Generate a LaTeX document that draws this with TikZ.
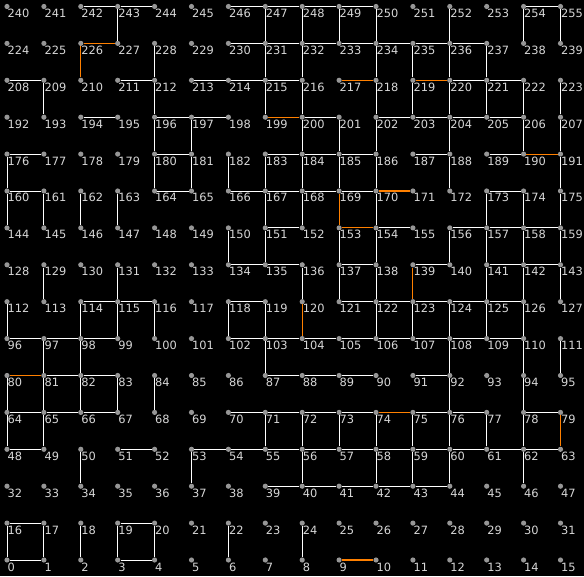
\documentclass[tikz,border=0pt]{standalone}
\usepackage{fontspec}
\setmainfont{DejaVu Sans}
\definecolor{tecka}{RGB}{150,150,150}
\definecolor{popisek}{RGB}{215,215,215}
\definecolor{oranz}{RGB}{255,128,0}
\tikzset{
  vrchol/.style={circle, fill=tecka, minimum size=5.2pt, inner sep=0pt},
  cislo/.style={anchor=base west, inner sep=0pt, text=popisek,
    font=\fontsize{11.4}{13}\selectfont},
  hrana/.style={draw=white, line width=0.9pt},
  cesta/.style={draw=oranz, line width=1.1pt}
}
\begin{document}
\begin{tikzpicture}[x=36.9pt, y=36.9pt]
\fill[black] (-7pt,-16pt) rectangle (577pt,560pt);
\useasboundingbox (-7pt,-16pt) rectangle (577pt,560pt);
% mrizka 16 x 16, uzel i ve sloupci i mod 16, radku i div 16
\foreach \i in {0,...,255}{
  \pgfmathtruncatemacro\c{mod(\i,16)}
  \pgfmathtruncatemacro\r{div(\i,16)}
  \node[vrchol] (v\i) at (\c,\r) {};
}
% bile hrany
\foreach \a/\b in {242/243,243/244,246/247,247/248,248/249,249/250,254/255,
  243/227,247/231,248/232,249/233,250/234,252/236,254/238,255/239,
  230/231,231/232,232/233,233/234,234/235,235/236,236/237,
  228/212,231/215,232/216,234/218,235/219,236/220,237/221,
  208/209,211/212,213/214,214/215,215/216,220/221,221/222,
  209/193,212/196,215/199,216/200,218/202,219/203,220/204,221/205,222/206,223/207,
  194/195,196/197,197/198,200/201,202/203,203/204,204/205,205/206,
  196/180,197/181,200/184,201/185,202/186,204/188,206/190,207/191,
  176/177,180/181,183/184,184/185,185/186,187/188,189/190,
  176/160,180/164,181/165,182/166,183/167,184/168,185/169,186/170,188/172,191/175,
  160/161,164/165,166/167,167/168,168/169,169/170,173/174,
  160/144,161/145,162/146,163/147,167/151,168/152,170/154,173/157,174/158,175/159,
  151/152,154/155,156/157,157/158,158/159,
  150/134,151/135,153/137,154/138,156/140,157/141,158/142,159/143,
  134/135,135/136,137/138,139/140,141/142,142/143,
  129/113,131/115,136/120,137/121,138/122,141/125,142/126,143/127,
  114/115,115/116,118/119,121/122,122/123,123/124,124/125,125/126,
  112/96,114/98,115/99,116/100,118/102,119/103,122/106,123/107,124/108,125/109,126/110,
  96/97,97/98,98/99,102/103,103/104,104/105,105/106,106/107,107/108,108/109,109/110,
  97/81,98/82,103/87,108/92,110/94,111/95,
  81/82,82/83,87/88,88/89,89/90,91/92,
  80/64,81/65,82/66,83/67,84/68,92/76,94/78,
  64/65,65/66,66/67,70/71,71/72,72/73,73/74,75/76,76/77,78/79,
  64/48,65/49,71/55,72/56,73/57,74/58,75/59,76/60,77/61,78/62,
  48/49,51/52,53/54,54/55,55/56,56/57,57/58,58/59,59/60,60/61,61/62,62/63,
  50/34,53/37,56/40,58/42,59/43,60/44,62/46,
  39/40,40/41,41/42,42/43,43/44,
  16/17,19/20,16/0,17/1,18/2,19/3,20/4,22/6,24/8,0/1,3/4}
  {\draw[hrana] (v\a) -- (v\b);}
% oranzove hrany
\foreach \a/\b in {226/227,226/210,217/218,219/220,199/200,190/191,170/171,
  169/153,153/154,139/123,120/104,80/81,74/75,79/63,9/10}
  {\draw[cesta] (v\a) -- (v\b);}
% cisla uzlu
\foreach \i in {0,...,255}
  {\node[cislo] (p\i) at ([shift={(0.4pt,-11pt)}]v\i.center) {\i};}
\end{tikzpicture}
\end{document}
